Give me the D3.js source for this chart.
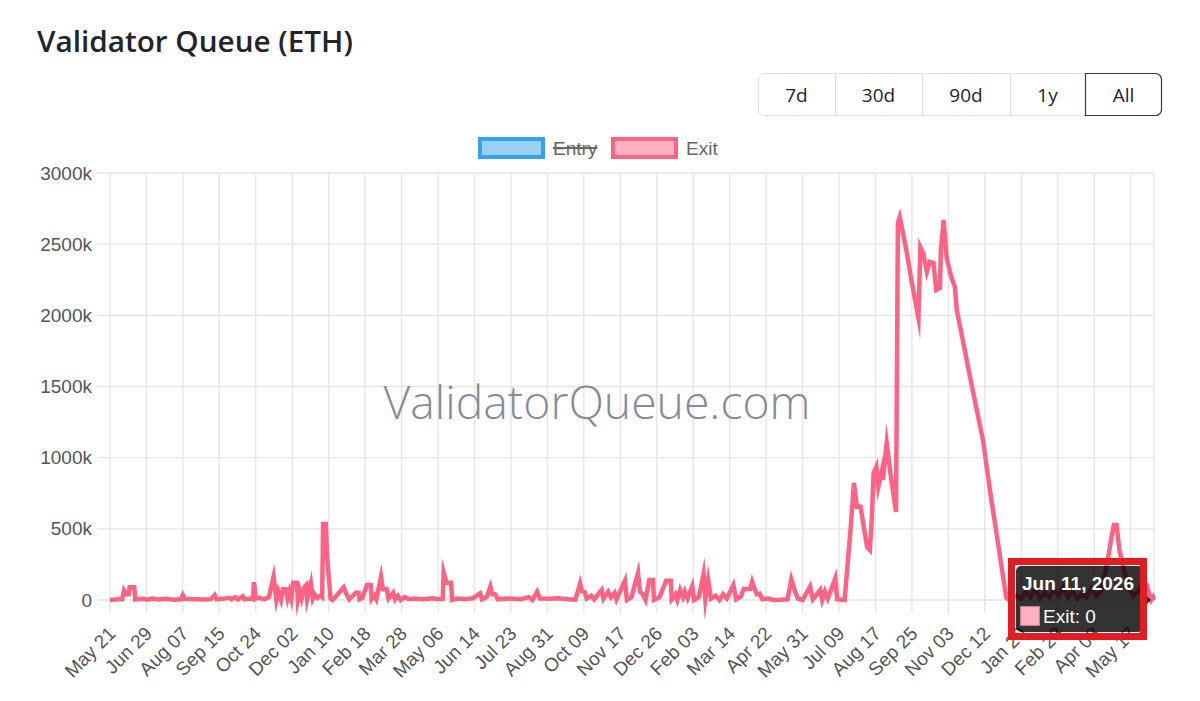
<!DOCTYPE html>
<html>
<head>
<meta charset="utf-8">
<title>Validator Queue (ETH)</title>
<script src="https://cdnjs.cloudflare.com/ajax/libs/d3/7.8.5/d3.min.js"></script>
<style>
    html, body { margin: 0; padding: 0; background: #fff; }
    #chart-area { width: 1200px; height: 701px; }
</style>
</head>
<body>
<div id="chart-area"></div>
<script>
/*
*   validator queue chart (exit queue, thousands of ETH)
*/

var exitDates = [
    "2023-05-21","2023-05-31","2023-06-03","2023-06-05","2023-06-07","2023-06-10","2023-06-11","2023-06-16","2023-06-17","2023-06-25",
    "2023-06-30","2023-07-05","2023-07-12","2023-07-20","2023-07-28","2023-08-05","2023-08-07","2023-08-09","2023-08-19","2023-08-29",
    "2023-09-06","2023-09-10","2023-09-12","2023-09-18","2023-09-26","2023-09-28","2023-10-02","2023-10-05","2023-10-10","2023-10-12",
    "2023-10-18","2023-10-21","2023-10-22","2023-10-24","2023-10-28","2023-11-02","2023-11-07","2023-11-12","2023-11-15","2023-11-17",
    "2023-11-20","2023-11-22","2023-11-25","2023-11-27","2023-11-29","2023-12-01","2023-12-03","2023-12-07","2023-12-08","2023-12-10",
    "2023-12-12","2023-12-15","2023-12-17","2023-12-18","2023-12-20","2023-12-22","2023-12-24","2023-12-26","2023-12-29","2024-01-01",
    "2024-01-03","2024-01-04","2024-01-07","2024-01-08","2024-01-10","2024-01-12","2024-01-14","2024-01-17","2024-01-26","2024-01-29",
    "2024-02-01","2024-02-08","2024-02-11","2024-02-12","2024-02-15","2024-02-20","2024-02-24","2024-02-25","2024-02-28","2024-03-01",
    "2024-03-06","2024-03-08","2024-03-12","2024-03-14","2024-03-19","2024-03-21","2024-03-24","2024-03-27","2024-03-31","2024-04-05",
    "2024-04-10","2024-04-20","2024-04-30","2024-05-07","2024-05-11","2024-05-12","2024-05-15","2024-05-20","2024-05-21","2024-05-27",
    "2024-06-04","2024-06-12","2024-06-20","2024-06-22","2024-06-27","2024-07-01","2024-07-03","2024-07-06","2024-07-07","2024-07-09",
    "2024-07-19","2024-08-03","2024-08-11","2024-08-15","2024-08-20","2024-08-23","2024-09-02","2024-09-12","2024-09-22","2024-09-30",
    "2024-10-05","2024-10-07","2024-10-10","2024-10-12","2024-10-17","2024-10-20","2024-10-28","2024-10-30","2024-11-04","2024-11-07",
    "2024-11-11","2024-11-13","2024-11-22","2024-11-24","2024-11-29","2024-12-06","2024-12-08","2024-12-11","2024-12-14","2024-12-18",
    "2024-12-22","2024-12-23","2024-12-29","2025-01-05","2025-01-10","2025-01-11","2025-01-15","2025-01-17","2025-01-20","2025-01-23",
    "2025-01-25","2025-01-28","2025-02-02","2025-02-04","2025-02-09","2025-02-14","2025-02-16","2025-02-19","2025-02-22","2025-02-27",
    "2025-03-03","2025-03-07","2025-03-11","2025-03-18","2025-03-21","2025-03-26","2025-03-29","2025-04-05","2025-04-07","2025-04-09",
    "2025-04-12","2025-04-15","2025-04-18","2025-04-24","2025-04-30","2025-05-08","2025-05-15","2025-05-19","2025-05-23","2025-05-26",
    "2025-05-31","2025-06-08","2025-06-11","2025-06-19","2025-06-21","2025-06-24","2025-06-27","2025-07-05","2025-07-07","2025-07-15",
    "2025-07-21","2025-07-25","2025-07-28","2025-08-01","2025-08-08","2025-08-11","2025-08-13","2025-08-15","2025-08-18","2025-08-20",
    "2025-08-24","2025-08-25","2025-08-29","2025-09-02","2025-09-08","2025-09-10","2025-09-12","2025-09-19","2025-09-25","2025-10-02",
    "2025-10-04","2025-10-07","2025-10-11","2025-10-14","2025-10-18","2025-10-21","2025-10-25","2025-10-26","2025-10-29","2025-11-01",
    "2025-11-06","2025-11-10","2025-11-12","2025-11-22","2025-11-24","2025-12-02","2025-12-10","2025-12-19","2025-12-24","2025-12-30",
    "2026-01-04","2026-01-07","2026-01-15","2026-01-20","2026-01-25","2026-01-30","2026-02-04","2026-02-09","2026-02-14","2026-02-19",
    "2026-02-24","2026-03-01","2026-03-06","2026-03-11","2026-03-16","2026-03-21","2026-03-26","2026-03-31","2026-04-05","2026-04-10",
    "2026-04-15","2026-04-20","2026-04-23","2026-04-26","2026-04-29","2026-05-02","2026-05-05","2026-05-08","2026-05-11","2026-05-15",
    "2026-05-20","2026-05-25","2026-05-30","2026-06-03","2026-06-06","2026-06-08","2026-06-10","2026-06-11"
];

// exit queue, thousands of ETH (same order as exitDates)
var exitQueueK = [
    0, 5, 5, 65, 40, 40, 89, 89, 3, 8,
    2, 10, 3, 8, 2, 5, 35, 8, 5, 3,
    6, 35, 5, 8, 15, 5, 20, 4, 25, 5,
    10, 5, 125, 10, 15, 5, 20, 164, 0, 60,
    0, 75, 75, 10, 60, 10, 122, 122, 0, 60,
    10, 90, 105, 5, 60, 117, 10, 40, 15, 30,
    20, 534, 534, 328, 164, 10, 0, 20, 89, 40,
    5, 51, 51, 5, 15, 105, 105, 5, 30, 5,
    164, 75, 75, 10, 51, 5, 30, 0, 20, 5,
    10, 5, 12, 5, 8, 192, 122, 122, 0, 10,
    5, 12, 47, 5, 20, 94, 40, 40, 30, 5,
    10, 5, 20, 0, 59, 10, 8, 12, 5, 3,
    117, 60, 55, 10, 30, 5, 70, 10, 59, 20,
    50, 5, 136, 0, 20, 192, 60, 40, 0, 140,
    140, 0, 20, 136, 136, 5, 40, 0, 70, 20,
    60, 10, 98, 0, 20, 183, 5, 140, 10, 30,
    0, 40, 10, 105, 5, 25, 77, 77, 129, 90,
    40, 45, 5, 10, 0, 2, 5, 145, 60, 10,
    0, 94, 5, 70, 0, 60, 10, 152, 5, 0,
    470, 822, 655, 655, 372, 351, 562, 892, 937, 794,
    913, 843, 1103, 892, 618, 2649, 2691, 2459, 2227, 1981,
    2480, 2438, 2305, 2375, 2368, 2178, 2192, 2459, 2670, 2410,
    2270, 2199, 2037, 1708, 1637, 1380, 1124, 703, 492, 230,
    14, 0, 30, 10, 60, 20, 80, 10, 50, 20,
    70, 30, 90, 20, 60, 10, 40, 20, 80, 30,
    60, 200, 300, 420, 527, 527, 350, 270, 180, 80,
    30, 60, 120, 110, 40, 0, 20, 0
];

// category labels shown on the x axis (one every 39 days)
var tickDates = [
    "2023-05-21","2023-06-29","2023-08-07","2023-09-15","2023-10-24","2023-12-02",
    "2024-01-10","2024-02-18","2024-03-28","2024-05-06","2024-06-14","2024-07-23",
    "2024-08-31","2024-10-09","2024-11-17","2024-12-26","2025-02-03","2025-03-14",
    "2025-04-22","2025-05-31","2025-07-09","2025-08-17","2025-09-25","2025-11-03",
    "2025-12-12","2026-01-20","2026-02-28","2026-04-08","2026-05-17"
];

var yTicksK = [0, 500, 1000, 1500, 2000, 2500, 3000];
var rangeButtons = ["7d", "30d", "90d", "1y", "All"];
var activeRange = "All";
var seriesNames = ["Entry", "Exit"];
var hiddenSeries = ["Entry"];
var hoverDate = "2026-06-11";

var parseTime = d3.timeParse("%Y-%m-%d");

// constructor function
QueueChart = function(_parentElement, _svgWidth, _svgHeight) {
    this.parentElement = _parentElement;
    this.svgWidth = _svgWidth;
    this.svgHeight = _svgHeight;

    this.initVis();
}

QueueChart.prototype.initVis = function() {
    var vis = this;

    vis.margin = {top: 173, right: 46, bottom: 101, left: 110};
    vis.width = vis.svgWidth - vis.margin.left - vis.margin.right;
    vis.height = vis.svgHeight - vis.margin.top - vis.margin.bottom;

    vis.font = "'Liberation Sans', Arial, Helvetica, sans-serif";
    vis.colours = {Entry: "#36a2eb", Exit: "#ff6384"};
    vis.fills = {Entry: "rgba(54,162,235,0.5)", Exit: "rgba(255,99,132,0.5)"};

    vis.svg = d3.select(vis.parentElement).append("svg")
        .attr("width", vis.svgWidth).attr("height", vis.svgHeight)
        .style("display", "block");

    // page title
    vis.title = vis.svg.append("text")
        .attr("x", 37).attr("y", 52)
        .style("font-family", "'Open Sans', 'Noto Sans', sans-serif")
        .style("font-weight", 600)
        .style("font-size", "28px")
        .style("fill", "#212529")
        .text("Validator Queue (ETH)");
    var tw = vis.title.node().getComputedTextLength();
    vis.title.style("font-size", (28 * 316 / tw) + "px");

    vis.drawButtons();

    vis.g = vis.svg.append("g")
        .attr("transform", "translate(" + vis.margin.left + " " + vis.margin.top + ")");

    vis.x = d3.scaleTime().range([0, vis.width]);
    vis.y = d3.scaleLinear().domain([0, 3000]).range([vis.height, 0]);

    vis.gridGroup = vis.g.append("g").attr("class", "grid");
    vis.markGroup = vis.g.append("g").attr("class", "marks");
    vis.axisGroup = vis.g.append("g").attr("class", "axes");
    vis.tipGroup = vis.g.append("g").attr("class", "tooltip");

    vis.drawLegend();
    vis.wrangleData();
}

QueueChart.prototype.drawButtons = function() {
    var vis = this;

    var widths = [77, 87, 88, 75, 77];
    var x0 = 758, y0 = 73, h = 42;
    var total = d3.sum(widths);
    var btn = vis.svg.append("g").attr("class", "range-buttons");

    btn.append("rect")
        .attr("x", x0 + 0.5).attr("y", y0 + 0.5)
        .attr("width", total - 1).attr("height", h)
        .attr("rx", 6)
        .attr("fill", "#fff").attr("stroke", "#dee2e6").attr("stroke-width", 1);

    var pos = x0;
    rangeButtons.forEach(function(label, i) {
        var w = widths[i];
        if (i > 0) {
            btn.append("line")
                .attr("x1", pos + 0.5).attr("x2", pos + 0.5)
                .attr("y1", y0 + 1).attr("y2", y0 + h)
                .attr("stroke", "#dee2e6");
        }
        if (label == activeRange) {
            btn.append("path")
                .attr("d", "M" + (pos + 0.5) + "," + (y0 + 0.5) + " H" + (pos + w - 6.5) +
                    " a6,6 0 0 1 6,6 V" + (y0 + h - 5.5) + " a6,6 0 0 1 -6,6 H" + (pos + 0.5) + " Z")
                .attr("fill", "none").attr("stroke", "#343a40").attr("stroke-width", 1.2);
        }
        btn.append("text")
            .attr("x", pos + w / 2).attr("y", y0 + 29)
            .attr("text-anchor", "middle")
            .style("font-family", "'Open Sans', 'Noto Sans', sans-serif")
            .style("font-size", "19px")
            .style("fill", "#212529")
            .text(label);
        pos += w;
    });
}

QueueChart.prototype.drawLegend = function() {
    var vis = this;

    var legend = vis.svg.append("g").attr("class", "legend");
    var starts = [480, 613];
    seriesNames.forEach(function(name, i) {
        var lx = starts[i];
        legend.append("rect")
            .attr("x", lx).attr("y", 139)
            .attr("width", 63).attr("height", 18)
            .attr("fill", vis.fills[name])
            .attr("stroke", vis.colours[name]).attr("stroke-width", 4);
        var t = legend.append("text")
            .attr("x", lx + 73).attr("y", 148)
            .attr("dy", "0.35em")
            .style("font-family", vis.font)
            .style("font-size", "19px")
            .style("fill", "#666")
            .text(name);
        if (hiddenSeries.indexOf(name) >= 0) {
            var len = t.node().getComputedTextLength();
            legend.append("line")
                .attr("x1", lx + 73).attr("x2", lx + 73 + len)
                .attr("y1", 148).attr("y2", 148)
                .attr("stroke", "#666").attr("stroke-width", 2);
        }
    });
}

QueueChart.prototype.wrangleData = function() {
    var vis = this;

    vis.data = exitDates.map(function(d, i) {
        return {date: parseTime(d), value: exitQueueK[i]};
    });
    vis.ticks = tickDates.map(parseTime);

    vis.updateVis();
}

QueueChart.prototype.updateVis = function() {
    var vis = this;

    vis.x.domain(d3.extent(vis.data, function(d) { return d.date; }));

    var gridColour = "#e5e5e5";

    // vertical grid lines and tick marks
    vis.gridGroup.selectAll("line.vgrid")
        .data(vis.ticks).enter().append("line")
        .attr("class", "vgrid")
        .attr("x1", function(d) { return vis.x(d); })
        .attr("x2", function(d) { return vis.x(d); })
        .attr("y1", 0).attr("y2", vis.height + 13)
        .attr("stroke", gridColour).attr("stroke-width", 1.3);

    vis.gridGroup.append("line")
        .attr("x1", vis.width).attr("x2", vis.width)
        .attr("y1", 0).attr("y2", vis.height)
        .attr("stroke", gridColour).attr("stroke-width", 1.3);

    // horizontal grid lines
    vis.gridGroup.selectAll("line.hgrid")
        .data(yTicksK).enter().append("line")
        .attr("class", "hgrid")
        .attr("x1", -13).attr("x2", vis.width)
        .attr("y1", function(d) { return vis.y(d); })
        .attr("y2", function(d) { return vis.y(d); })
        .attr("stroke", gridColour).attr("stroke-width", 1.3);

    // watermark
    var wm = vis.gridGroup.append("text")
        .attr("x", 487).attr("y", 246)
        .attr("text-anchor", "middle")
        .style("font-family", "'Open Sans', 'Noto Sans', sans-serif")
        .style("font-weight", 300)
        .style("font-size", "42px")
        .style("fill", "#878a9b")
        .text("ValidatorQueue.com");
    var ww = wm.node().getComputedTextLength();
    wm.style("font-size", (42 * 427 / ww) + "px");

    // y axis labels
    vis.axisGroup.selectAll("text.ylab")
        .data(yTicksK).enter().append("text")
        .attr("class", "ylab")
        .attr("x", -18)
        .attr("y", function(d) { return vis.y(d); })
        .attr("dy", "0.35em")
        .attr("text-anchor", "end")
        .style("font-family", vis.font)
        .style("font-size", "19px")
        .style("fill", "#555")
        .text(function(d) { return d == 0 ? "0" : d + "k"; });

    // x axis labels, rotated
    var fmt = d3.timeFormat("%b %d");
    vis.axisGroup.selectAll("text.xlab")
        .data(vis.ticks).enter().append("text")
        .attr("class", "xlab")
        .attr("transform", function(d) {
            return "translate(" + (vis.x(d) + 2) + " " + (vis.height + 30) + ") rotate(-45)";
        })
        .attr("dy", "0.35em")
        .attr("text-anchor", "end")
        .style("font-family", vis.font)
        .style("font-size", "19px")
        .style("fill", "#555")
        .text(function(d) { return fmt(d); });

    // exit line
    vis.line = d3.line()
        .x(function(d) { return vis.x(d.date); })
        .y(function(d) { return vis.y(d.value); });

    vis.markGroup.append("path")
        .datum(vis.data)
        .attr("d", vis.line)
        .attr("fill", "none")
        .attr("stroke", vis.colours.Exit)
        .attr("stroke-width", 4.5)
        .attr("stroke-linejoin", "miter")
        .attr("stroke-miterlimit", 10);

    vis.drawTooltip();
}

QueueChart.prototype.drawTooltip = function() {
    var vis = this;

    var hover = parseTime(hoverDate);
    var point = vis.data.filter(function(d) { return +d.date == +hover; })[0];
    var px = vis.x(point.date), py = vis.y(point.value);

    var tipW = 127, tipH = 66;
    var tipRight = px - 11;
    var tipLeft = tipRight - tipW;
    var tipTop = py - 34;

    vis.tipGroup.append("rect")
        .attr("x", tipLeft).attr("y", tipTop)
        .attr("width", tipW).attr("height", tipH)
        .attr("rx", 5)
        .attr("fill", "rgba(0,0,0,0.8)");

    vis.tipGroup.append("path")
        .attr("d", "M" + tipRight + "," + (py - 8) + " L" + (tipRight + 8) + "," + py +
            " L" + tipRight + "," + (py + 8) + " Z")
        .attr("fill", "rgba(0,0,0,0.8)");

    vis.tipGroup.append("text")
        .attr("x", tipLeft + 6).attr("y", tipTop + 24)
        .style("font-family", vis.font)
        .style("font-size", "19px")
        .style("font-weight", "bold")
        .style("fill", "#fff")
        .text(d3.timeFormat("%b %-d, %Y")(point.date));

    vis.tipGroup.append("rect")
        .attr("x", tipLeft + 5).attr("y", tipTop + 41)
        .attr("width", 18).attr("height", 18)
        .attr("fill", "#ffb1c1")
        .attr("stroke", "#ff9fb3").attr("stroke-width", 1.5);

    vis.tipGroup.append("text")
        .attr("x", tipLeft + 27).attr("y", tipTop + 57)
        .style("font-family", vis.font)
        .style("font-size", "19px")
        .style("fill", "#fff")
        .text("Exit: " + point.value);

    // red highlight box round the tooltip
    vis.tipGroup.append("rect")
        .attr("x", tipLeft - 4.5).attr("y", tipTop - 4.5)
        .attr("width", tipW + 5).attr("height", tipH + 9)
        .attr("fill", "none")
        .attr("stroke", "#e31b23").attr("stroke-width", 7);
}

new QueueChart("#chart-area", 1200, 701);
</script>
</body>
</html>
